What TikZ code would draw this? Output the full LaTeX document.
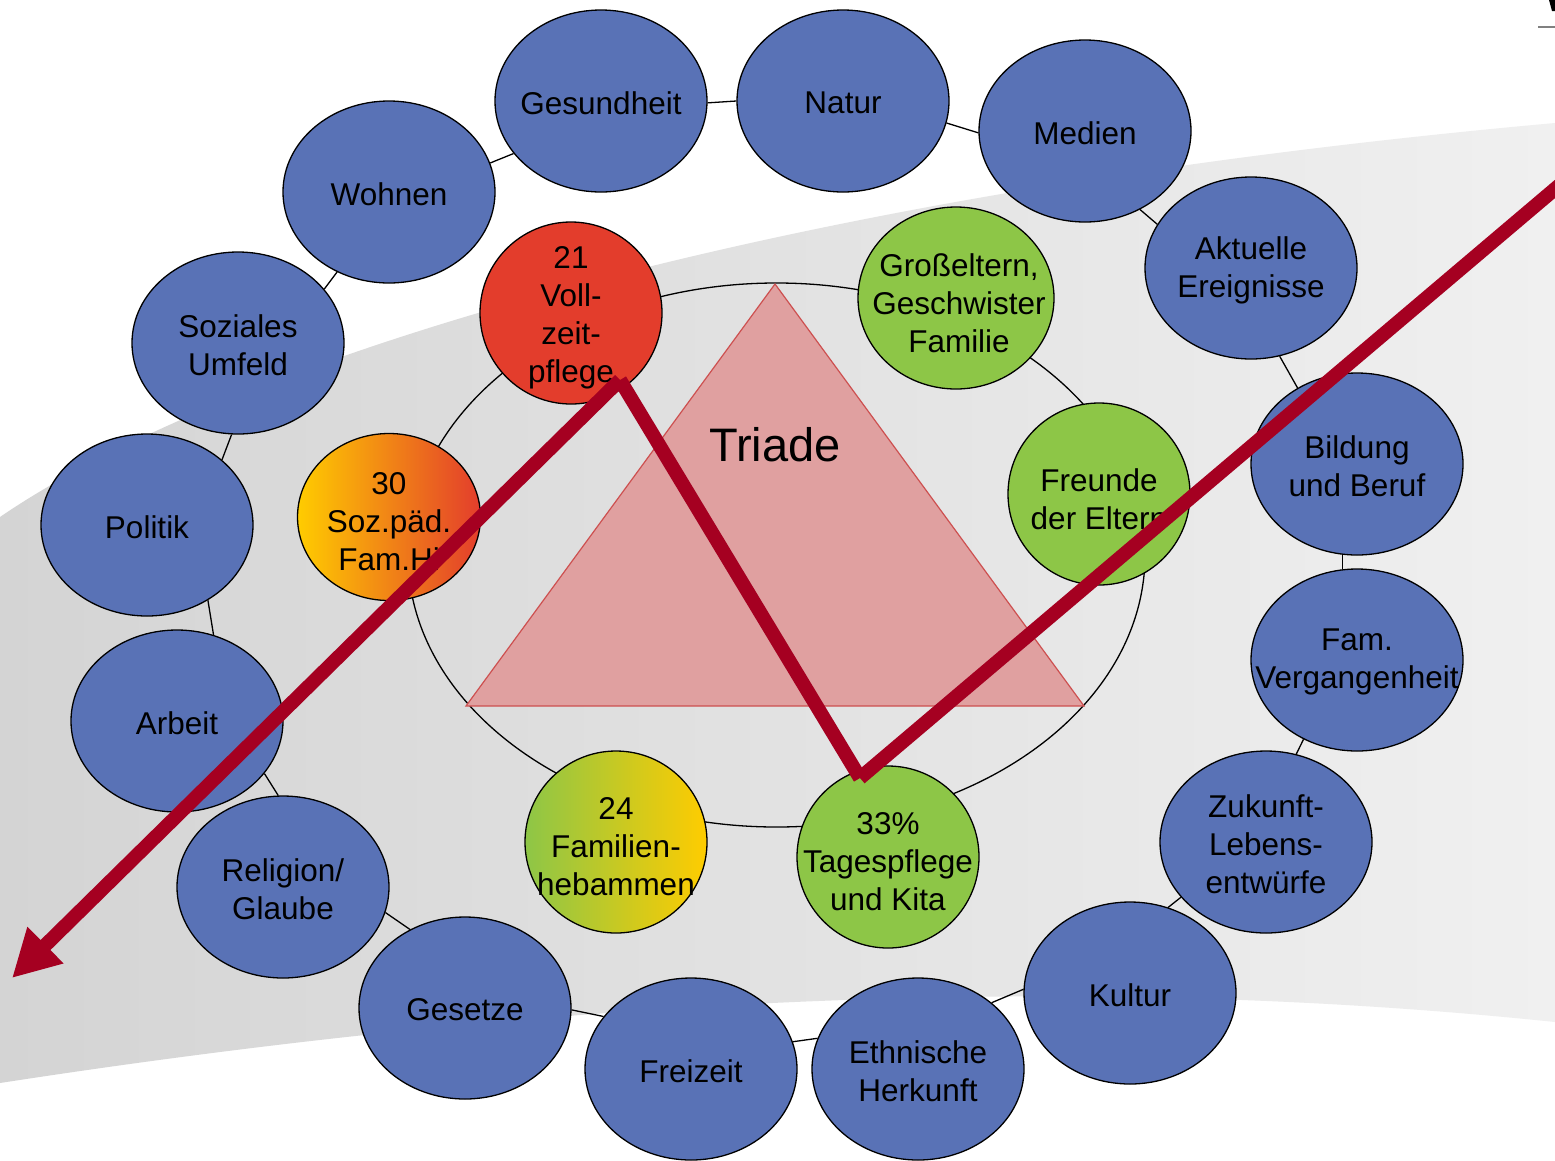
\documentclass[tikz,border=0pt]{standalone}
\usepackage{fontspec}
\setmainfont{Liberation Sans}
\usetikzlibrary{shapes.geometric,arrows.meta}
\definecolor{bubblue}{RGB}{89,114,182}
\definecolor{nodered}{RGB}{227,61,44}
\definecolor{nodegreen}{RGB}{141,198,71}
\definecolor{nodeyellow}{RGB}{255,204,0}
\definecolor{trifill}{RGB}{224,160,160}
\definecolor{triedge}{RGB}{205,80,80}
\definecolor{arrowred}{RGB}{165,0,33}
\definecolor{bandL}{RGB}{212,212,212}
\definecolor{bandR}{RGB}{240,240,240}
\tikzset{
  outer/.style={ellipse, draw=black, line width=1.3pt, fill=bubblue,
    minimum width=212pt, minimum height=182pt, inner sep=0pt},
  inner/.style={ellipse, draw=black, line width=1.3pt,
    minimum width=182pt, minimum height=182pt, inner sep=0pt},
  lbl/.style={align=center, font=\fontsize{31.5}{38}\selectfont, inner sep=0pt, text=black, yshift=-2pt},
  ilbl/.style={lbl, yshift=-3pt},
  conn/.style={draw=black, line width=1.3pt},
  redline/.style={draw=arrowred, line width=14pt, line cap=butt},
}
\begin{document}
\begin{tikzpicture}[x=1pt,y=-1pt]
\useasboundingbox (0,0) rectangle (1555,1160);
\fill[white] (0,0) rectangle (1555,1160);
% grey swoosh band
\shade[left color=bandL, right color=bandR]
  (0,517) .. controls (200,380) and (700,200) .. (1555,123)
  -- (1555,1022) .. controls (1200,985) and (700,975) .. (0,1083) -- cycle;
% top-right marks
\fill[black] (1549,0) -- (1555,0) -- (1555,11) -- (1552,11) -- cycle;
\draw[gray, line width=1.5pt] (1538,27) -- (1555,27);

% inner ring
\node[draw=black, line width=1.3pt, ellipse, minimum width=737pt, minimum height=544pt, inner sep=0pt] (ring) at (776.5,555) {};

% outer nodes
\node[outer, label={[lbl]center:Gesundheit}] (ges) at (601,101) {};
\node[outer, label={[lbl]center:Natur}] (nat) at (843,101) {};
\node[outer, label={[lbl]center:Medien}] (med) at (1085,131) {};
\node[outer, label={[lbl]center:{Aktuelle\\Ereignisse}}] (akt) at (1251,268) {};
\node[outer, label={[lbl]center:{Bildung\\und Beruf}}] (bil) at (1357,464) {};
\node[outer, label={[lbl]center:{Fam.\\Vergangenheit}}] (fam) at (1357,660) {};
\node[outer, label={[lbl]center:{Zukunft-\\Lebens-\\entwürfe}}] (zuk) at (1266,842) {};
\node[outer, label={[lbl]center:Kultur}] (kul) at (1130,993) {};
\node[outer, label={[lbl]center:{Ethnische\\Herkunft}}] (eth) at (918,1069) {};
\node[outer, label={[lbl]center:Freizeit}] (fre) at (691,1069) {};
\node[outer, label={[lbl]center:Gesetze}] (gse) at (465,1008) {};
\node[outer, label={[lbl]center:{Religion/\\Glaube}}] (rel) at (283,887) {};
\node[outer, label={[lbl]center:Arbeit}] (arb) at (177,721) {};
\node[outer, label={[lbl]center:Politik}] (pol) at (147,525) {};
\node[outer, label={[lbl]center:{Soziales\\Umfeld}}] (soz) at (238,343) {};
\node[outer, label={[lbl]center:Wohnen}] (woh) at (389,192) {};

% outer connectors (border to border)
\path[conn] (ges.-1) -- (nat.180);
\path[conn] (nat.-12) -- (med.181);
\path[conn] (med.-55) -- (akt.155);
\path[conn] (akt.-72) -- (bil.128);
\path[conn] (bil.261) -- (fam.99);
\path[conn] (fam.236) -- (zuk.71);
\path[conn] (zuk.213) -- (kul.66);
\path[conn] (kul.178) -- (eth.42);
\path[conn] (eth.163) -- (fre.15);
\path[conn] (fre.149) -- (gse.-1);
\path[conn] (gse.125) -- (rel.-14);
\path[conn] (rel.93) -- (arb.-31);
\path[conn] (arb.67) -- (pol.-51);
\path[conn] (pol.41) -- (soz.266);
\path[conn] (soz.32) -- (woh.237);
\path[conn] (woh.16) -- (ges.211);

% triangle
\coordinate (t1) at (775,284);
\coordinate (t2) at (466,706);
\coordinate (t3) at (1084,706);
\filldraw[fill=trifill, draw=triedge, line width=1.2pt] (t1) -- (t2) -- (t3) -- cycle;
\node[font=\fontsize{47}{56}\selectfont, inner sep=0pt] (triade) at (775,445) {Triade};

% inner nodes
\node[inner, fill=nodered, label={[ilbl]center:{21\\Voll-\\zeit-\\pflege}}] (voll) at (571,313) {};
\node[inner, fill=nodegreen, minimum width=196pt, label={[ilbl, xshift=3pt]center:{Großeltern,\\Geschwister\\Familie}}] (gro) at (956,298) {};
\node[inner, fill=nodegreen, label={[ilbl]center:{Freunde\\der Eltern}}] (freu) at (1099,494) {};
\node[inner, fill=nodegreen, label={[ilbl]center:{33\%\\Tagespflege\\und Kita}}] (tag) at (888,857) {};
\node[inner, left color=nodegreen, right color=nodeyellow, label={[ilbl]center:{24\\Familien-\\hebammen}}] (heb) at (616,842) {};
\node[inner, minimum width=183pt, minimum height=167pt, left color=nodeyellow, right color=nodered, label={[ilbl]center:{30\\Soz.päd.\\Fam.Hi}}] (spf) at (389,517) {};

% red zigzag arrow
\coordinate (r0) at (1575,172);
\coordinate (r1) at (860,778);
\coordinate (r2) at (620,380);
\coordinate (r3) at (12,978);
\draw[redline] (r0) -- (r1);
\draw[redline] (r1) -- (r2);
\draw[redline, -{Triangle[length=47pt,width=48pt]}] (r2) -- (r3);
\end{tikzpicture}
\end{document}
